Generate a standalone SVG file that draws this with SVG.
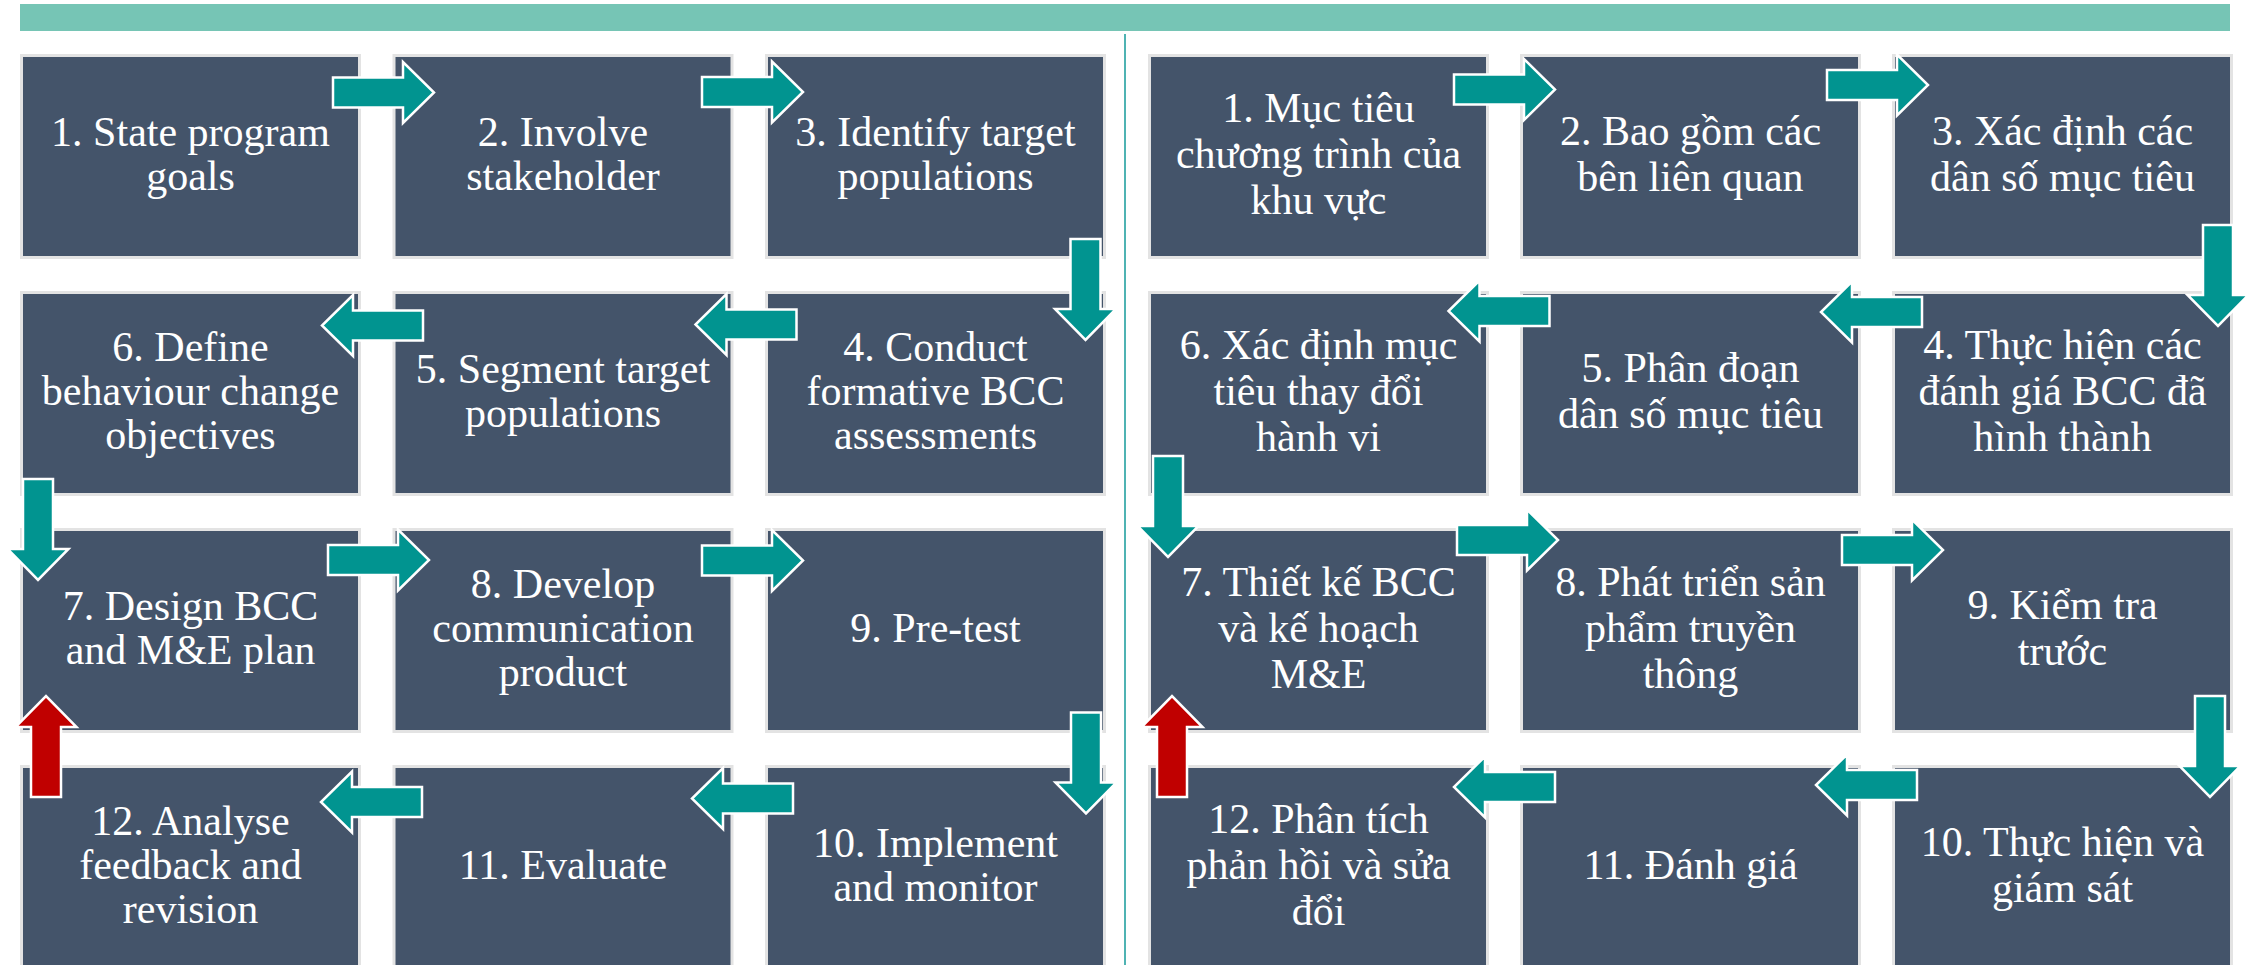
<svg xmlns="http://www.w3.org/2000/svg" xmlns:xlink="http://www.w3.org/1999/xlink" width="2252" height="965" viewBox="0 0 2252 965">
<style>
.box{fill:#44546A;stroke:#E3E3E3;stroke-width:3}
.lbl{font-family:"Liberation Serif","Times New Roman","DejaVu Serif",serif;font-size:42px;fill:#FFFFFF;text-anchor:middle}
.teal{fill:#019490}
.red{fill:#C00000}
.arr{stroke:#FFFFFF;stroke-width:2.5;stroke-linejoin:miter}
</style>
<defs>
<path id="arr" d="M0,-15 H70 V-30.5 L101,0 L70,30.5 V15 H0 Z"/>
</defs>
<rect x="20" y="4" width="2210" height="27" fill="#76C5B5"/>
<line x1="1125" y1="34" x2="1125" y2="965" stroke="#4FB3B3" stroke-width="2"/>

<g id="L1"><rect class="box" x="21.5" y="55.5" width="338" height="202"/><text class="lbl"><tspan x="190.5" y="146">1. State program</tspan><tspan x="190.5" y="190">goals</tspan></text></g>
<g id="L2"><rect class="box" x="394" y="55.5" width="338" height="202"/><text class="lbl"><tspan x="563" y="146">2. Involve</tspan><tspan x="563" y="190">stakeholder</tspan></text></g>
<g id="L3"><rect class="box" x="766.5" y="55.5" width="338" height="202"/><text class="lbl"><tspan x="935.5" y="146">3. Identify target</tspan><tspan x="935.5" y="190">populations</tspan></text></g>
<g id="L6"><rect class="box" x="21.5" y="292.5" width="338" height="202"/><text class="lbl"><tspan x="190.5" y="361">6. Define</tspan><tspan x="190.5" y="405">behaviour change</tspan><tspan x="190.5" y="449">objectives</tspan></text></g>
<g id="L5"><rect class="box" x="394" y="292.5" width="338" height="202"/><text class="lbl"><tspan x="563" y="383">5. Segment target</tspan><tspan x="563" y="427">populations</tspan></text></g>
<g id="L4"><rect class="box" x="766.5" y="292.5" width="338" height="202"/><text class="lbl"><tspan x="935.5" y="361">4. Conduct</tspan><tspan x="935.5" y="405">formative BCC</tspan><tspan x="935.5" y="449">assessments</tspan></text></g>
<g id="L7"><rect class="box" x="21.5" y="529.5" width="338" height="202"/><text class="lbl"><tspan x="190.5" y="620">7. Design BCC</tspan><tspan x="190.5" y="664">and M&amp;E plan</tspan></text></g>
<g id="L8"><rect class="box" x="394" y="529.5" width="338" height="202"/><text class="lbl"><tspan x="563" y="598">8. Develop</tspan><tspan x="563" y="642">communication</tspan><tspan x="563" y="686">product</tspan></text></g>
<g id="L9"><rect class="box" x="766.5" y="529.5" width="338" height="202"/><text class="lbl"><tspan x="935.5" y="642">9. Pre-test</tspan></text></g>
<g id="L12"><rect class="box" x="21.5" y="766.5" width="338" height="202"/><text class="lbl"><tspan x="190.5" y="835">12. Analyse</tspan><tspan x="190.5" y="879">feedback and</tspan><tspan x="190.5" y="923">revision</tspan></text></g>
<g id="L11"><rect class="box" x="394" y="766.5" width="338" height="202"/><text class="lbl"><tspan x="563" y="879">11. Evaluate</tspan></text></g>
<g id="L10"><rect class="box" x="766.5" y="766.5" width="338" height="202"/><text class="lbl"><tspan x="935.5" y="857">10. Implement</tspan><tspan x="935.5" y="901">and monitor</tspan></text></g>

<g id="R1"><rect class="box" x="1149.5" y="55.5" width="338" height="202"/><text class="lbl"><tspan x="1318.5" y="122">1. Mục tiêu</tspan><tspan x="1318.5" y="168">chương trình của</tspan><tspan x="1318.5" y="214">khu vực</tspan></text></g>
<g id="R2"><rect class="box" x="1521.5" y="55.5" width="338" height="202"/><text class="lbl"><tspan x="1690.5" y="145">2. Bao gồm các</tspan><tspan x="1690.5" y="191">bên liên quan</tspan></text></g>
<g id="R3"><rect class="box" x="1893.5" y="55.5" width="338" height="202"/><text class="lbl"><tspan x="2062.5" y="145">3. Xác định các</tspan><tspan x="2062.5" y="191">dân số mục tiêu</tspan></text></g>
<g id="R6"><rect class="box" x="1149.5" y="292.5" width="338" height="202"/><text class="lbl"><tspan x="1318.5" y="359">6. Xác định mục</tspan><tspan x="1318.5" y="405">tiêu thay đổi</tspan><tspan x="1318.5" y="451">hành vi</tspan></text></g>
<g id="R5"><rect class="box" x="1521.5" y="292.5" width="338" height="202"/><text class="lbl"><tspan x="1690.5" y="382">5. Phân đoạn</tspan><tspan x="1690.5" y="428">dân số mục tiêu</tspan></text></g>
<g id="R4"><rect class="box" x="1893.5" y="292.5" width="338" height="202"/><text class="lbl"><tspan x="2062.5" y="359">4. Thực hiện các</tspan><tspan x="2062.5" y="405">đánh giá BCC đã</tspan><tspan x="2062.5" y="451">hình thành</tspan></text></g>
<g id="R7"><rect class="box" x="1149.5" y="529.5" width="338" height="202"/><text class="lbl"><tspan x="1318.5" y="596">7. Thiết kế BCC</tspan><tspan x="1318.5" y="642">và kế hoạch</tspan><tspan x="1318.5" y="688">M&amp;E</tspan></text></g>
<g id="R8"><rect class="box" x="1521.5" y="529.5" width="338" height="202"/><text class="lbl"><tspan x="1690.5" y="596">8. Phát triển sản</tspan><tspan x="1690.5" y="642">phẩm truyền</tspan><tspan x="1690.5" y="688">thông</tspan></text></g>
<g id="R9"><rect class="box" x="1893.5" y="529.5" width="338" height="202"/><text class="lbl"><tspan x="2062.5" y="619">9. Kiểm tra</tspan><tspan x="2062.5" y="665">trước</tspan></text></g>
<g id="R12"><rect class="box" x="1149.5" y="766.5" width="338" height="202"/><text class="lbl"><tspan x="1318.5" y="833">12. Phân tích</tspan><tspan x="1318.5" y="879">phản hồi và sửa</tspan><tspan x="1318.5" y="925">đổi</tspan></text></g>
<g id="R11"><rect class="box" x="1521.5" y="766.5" width="338" height="202"/><text class="lbl"><tspan x="1690.5" y="879">11. Đánh giá</tspan></text></g>
<g id="R10"><rect class="box" x="1893.5" y="766.5" width="338" height="202"/><text class="lbl"><tspan x="2062.5" y="856">10. Thực hiện và</tspan><tspan x="2062.5" y="902">giám sát</tspan></text></g>

<g id="connectors" class="arr">
<use href="#arr" class="teal" transform="translate(333,92.5)"/>
<use href="#arr" class="teal" transform="translate(702,92)"/>
<use href="#arr" class="teal" transform="translate(1085.5,239) rotate(90)"/>
<use href="#arr" class="teal" transform="translate(796.5,324.5) rotate(180)"/>
<use href="#arr" class="teal" transform="translate(423,325.5) rotate(180)"/>
<use href="#arr" class="teal" transform="translate(38,479) rotate(90)"/>
<use href="#arr" class="teal" transform="translate(328,560)"/>
<use href="#arr" class="teal" transform="translate(702,560.5)"/>
<use href="#arr" class="teal" transform="translate(1086,712.5) rotate(90)"/>
<use href="#arr" class="teal" transform="translate(793,798.5) rotate(180)"/>
<use href="#arr" class="teal" transform="translate(422,802) rotate(180)"/>
<use href="#arr" class="red" transform="translate(46,797) rotate(-90)"/>

<use href="#arr" class="teal" transform="translate(1454,89.5)"/>
<use href="#arr" class="teal" transform="translate(1827,85)"/>
<use href="#arr" class="teal" transform="translate(2218,225) rotate(90)"/>
<use href="#arr" class="teal" transform="translate(1922,312) rotate(180)"/>
<use href="#arr" class="teal" transform="translate(1549.5,311) rotate(180)"/>
<use href="#arr" class="teal" transform="translate(1168,456) rotate(90)"/>
<use href="#arr" class="teal" transform="translate(1457,540)"/>
<use href="#arr" class="teal" transform="translate(1842,550)"/>
<use href="#arr" class="teal" transform="translate(2210,696) rotate(90)"/>
<use href="#arr" class="teal" transform="translate(1917,785) rotate(180)"/>
<use href="#arr" class="teal" transform="translate(1555,787) rotate(180)"/>
<use href="#arr" class="red" transform="translate(1172,797) rotate(-90)"/>
</g>
</svg>
